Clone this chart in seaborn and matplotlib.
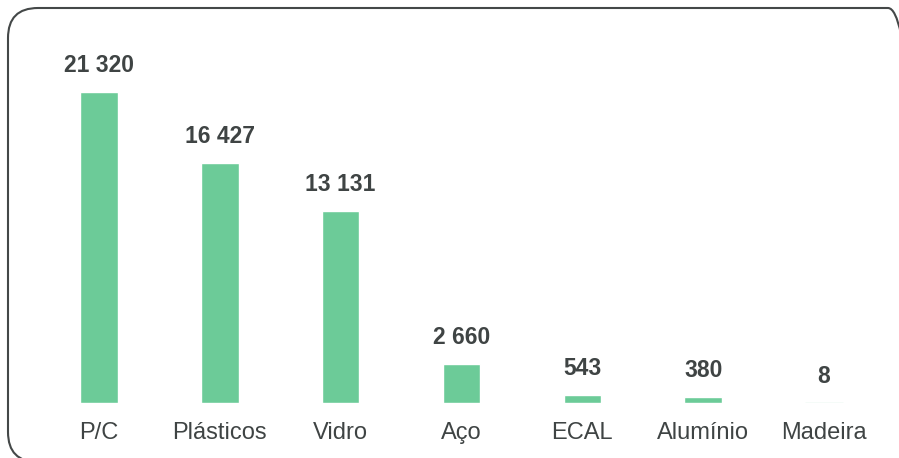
import matplotlib
matplotlib.use('Agg')
import matplotlib.pyplot as plt
import seaborn as sns
import pandas as pd
from matplotlib.patches import FancyBboxPatch
from matplotlib.transforms import IdentityTransform

# Data
categories = ["P/C", "Plásticos", "Vidro", "Aço", "ECAL", "Alumínio", "Madeira"]
values = [21320, 16427, 13131, 2660, 543, 380, 8]
value_labels = ["21 320", "16 427", "13 131", "2 660", "543", "380", "8"]

BAR_COLOR = '#6CCB98'
TEXT_COLOR = '#3F4444'

sns.set_theme(style='white')
plt.rcParams['font.family'] = ['Liberation Sans', 'DejaVu Sans']

df = pd.DataFrame({'material': categories, 'toneladas': values})

fig = plt.figure(figsize=(8.99, 4.58), dpi=100)
ax = fig.add_axes([38.6 / 899, 55 / 458, 845.8 / 899, 373 / 458])

sns.barplot(data=df, x='material', y='toneladas', color=BAR_COLOR,
            width=0.31, saturation=1, ax=ax)

ax.set_xlim(-0.5, len(categories) - 0.5)
ax.set_ylim(0, 21320 * 373 / 311)

for i, (v, lab) in enumerate(zip(values, value_labels)):
    ax.annotate(lab, xy=(i, v), xytext=(0, 11), textcoords='offset points',
                ha='center', va='bottom', fontsize=16.5, fontweight='bold',
                color=TEXT_COLOR)

# tiny Madeira bar is barely visible in the original, as a faint line
ax.plot([6 - 0.155, 6 + 0.155], [8, 8], color='#CDEFE0', lw=1, solid_capstyle='butt')

ax.set_xlabel('')
ax.set_ylabel('')
ax.set_yticks([])
ax.tick_params(axis='x', length=0, pad=14, labelsize=17, labelcolor=TEXT_COLOR)
sns.despine(ax=ax, left=True, bottom=True)

# rounded frame around the chart, partly cut off at the right and bottom edges
frame = FancyBboxPatch((8, -4), 910, 458 - 8 + 4,
                       boxstyle='round,pad=0,rounding_size=30',
                       transform=IdentityTransform(), facecolor='none',
                       edgecolor='#444848', linewidth=1.5)
fig.patches.append(frame)

fig.savefig('out.png', dpi=100)
